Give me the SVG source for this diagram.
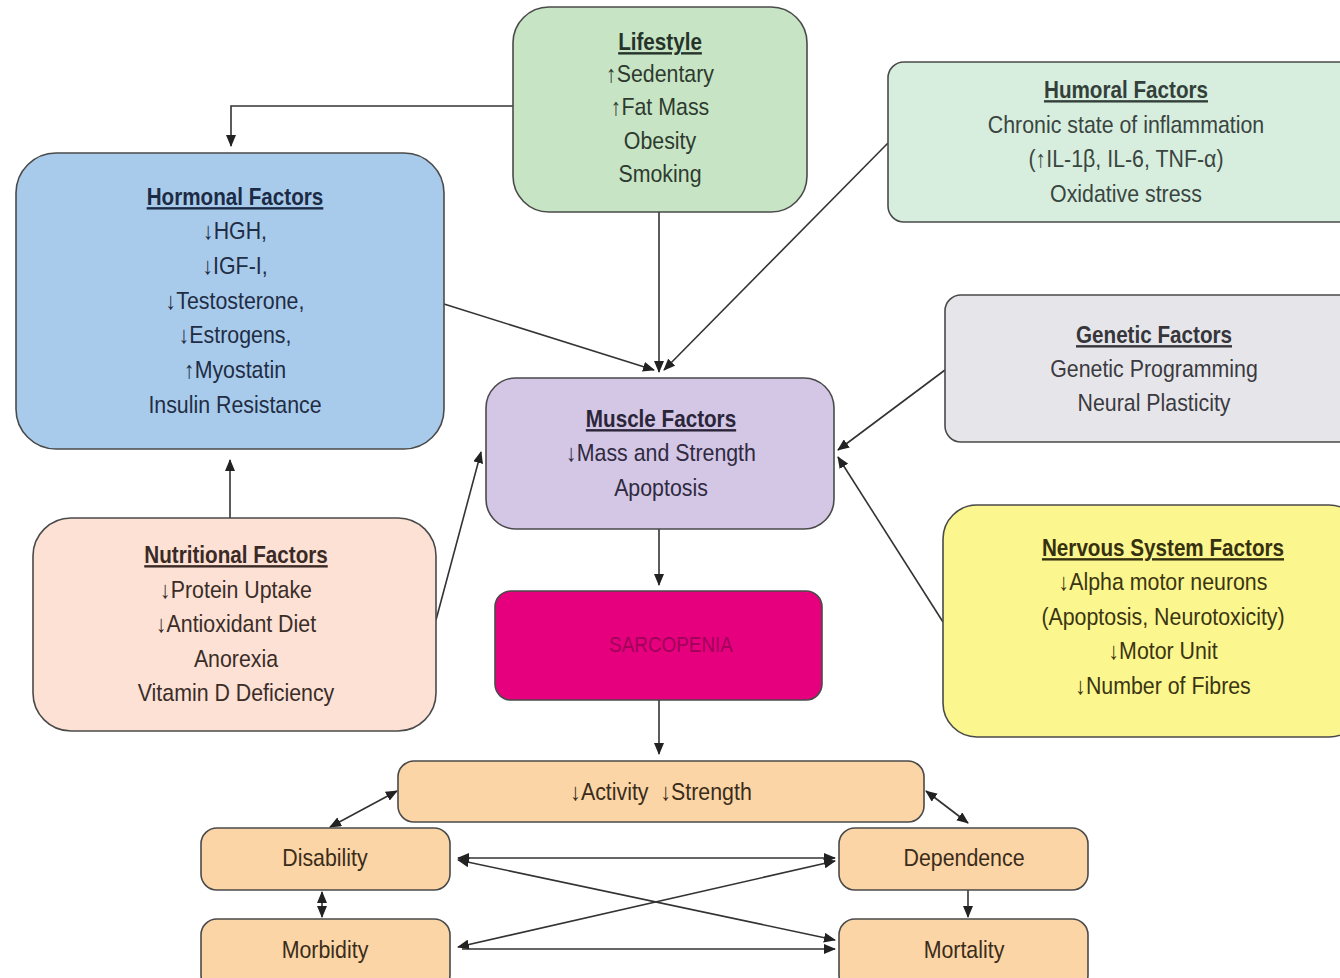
<svg xmlns="http://www.w3.org/2000/svg" width="1340" height="978" viewBox="0 0 1340 978">
<defs>
<marker id="ah" viewBox="0 0 12 10" refX="11" refY="5" markerWidth="12" markerHeight="10" markerUnits="userSpaceOnUse" orient="auto-start-reverse">
<path d="M0,0 L12,5 L0,10 Z" fill="#222"/>
</marker>
<style>
.box{stroke:#4a4a4a;stroke-width:1.6}
text{font-family:"Liberation Sans",Arial,sans-serif;font-size:24px;text-anchor:middle}
.t{font-weight:bold;text-decoration:underline;transform:scale(0.967,1)}
.c{fill:none;stroke:#333;stroke-width:1.6}
</style>
</defs>
<rect width="1340" height="978" fill="#ffffff"/>

<g id="connectors">
<polyline class="c" points="513,106 231,106 231,146" marker-end="url(#ah)"/>
<line class="c" x1="659" y1="212" x2="659" y2="372" marker-end="url(#ah)"/>
<line class="c" x1="444" y1="304" x2="654" y2="370" marker-end="url(#ah)"/>
<line class="c" x1="888" y1="143" x2="664" y2="370" marker-end="url(#ah)"/>
<line class="c" x1="945" y1="370" x2="838" y2="450" marker-end="url(#ah)"/>
<line class="c" x1="943" y1="622" x2="838" y2="457" marker-end="url(#ah)"/>
<line class="c" x1="230" y1="518" x2="230" y2="460" marker-end="url(#ah)"/>
<line class="c" x1="436" y1="620" x2="481" y2="452" marker-end="url(#ah)"/>
<line class="c" x1="659" y1="529" x2="659" y2="585" marker-end="url(#ah)"/>
<line class="c" x1="659" y1="700" x2="659" y2="754" marker-end="url(#ah)"/>
<line class="c" x1="330" y1="827" x2="397" y2="791" marker-start="url(#ah)" marker-end="url(#ah)"/>
<line class="c" x1="926" y1="791" x2="968" y2="823" marker-start="url(#ah)" marker-end="url(#ah)"/>
<line class="c" x1="458" y1="858" x2="835" y2="858" marker-start="url(#ah)" marker-end="url(#ah)"/>
<line class="c" x1="458" y1="860" x2="835" y2="940" marker-start="url(#ah)" marker-end="url(#ah)"/>
<line class="c" x1="458" y1="947" x2="835" y2="861" marker-start="url(#ah)" marker-end="url(#ah)"/>
<line class="c" x1="462" y1="949" x2="835" y2="949" marker-end="url(#ah)"/>
<line class="c" x1="322" y1="892" x2="322" y2="917" marker-start="url(#ah)" marker-end="url(#ah)"/>
<line class="c" x1="968" y1="890" x2="968" y2="917" marker-end="url(#ah)"/>
</g>

<g id="lifestyle">
<rect class="box" x="513" y="7" width="294" height="205" rx="36" fill="#c7e5c4"/>
<g transform="translate(660 0) scale(0.89 1)" fill="#2e3a30">
<text x="0" y="50" class="t" fill="#26332a">Lifestyle</text>
<text x="0" y="82">↑Sedentary</text>
<text x="0" y="115">↑Fat Mass</text>
<text x="0" y="149">Obesity</text>
<text x="0" y="182">Smoking</text>
</g>
</g>

<g id="humoral">
<rect class="box" x="888" y="62" width="480" height="160" rx="16" fill="#d7eedf"/>
<g transform="translate(1126 0) scale(0.89 1)" fill="#3a4540">
<text x="0" y="98" class="t" fill="#33403a">Humoral Factors</text>
<text x="0" y="133">Chronic state of inflammation</text>
<text x="0" y="167">(↑IL-1β, IL-6, TNF-α)</text>
<text x="0" y="202">Oxidative stress</text>
</g>
</g>

<g id="hormonal">
<rect class="box" x="16" y="153" width="428" height="296" rx="40" fill="#a9cbeb"/>
<g transform="translate(235 0) scale(0.89 1)" fill="#1f2d45">
<text x="0" y="205" class="t" fill="#1c2b45">Hormonal Factors</text>
<text x="0" y="239">↓HGH,</text>
<text x="0" y="274">↓IGF-I,</text>
<text x="0" y="309">↓Testosterone,</text>
<text x="0" y="343">↓Estrogens,</text>
<text x="0" y="378">↑Myostatin</text>
<text x="0" y="413">Insulin Resistance</text>
</g>
</g>

<g id="genetic">
<rect class="box" x="945" y="295" width="420" height="147" rx="16" fill="#e6e6ea"/>
<g transform="translate(1154 0) scale(0.89 1)" fill="#3a3a40">
<text x="0" y="343" class="t" fill="#35353a">Genetic Factors</text>
<text x="0" y="377">Genetic Programming</text>
<text x="0" y="411">Neural Plasticity</text>
</g>
</g>

<g id="muscle">
<rect class="box" x="486" y="378" width="348" height="151" rx="30" fill="#d4c6e5"/>
<g transform="translate(661 0) scale(0.89 1)" fill="#2f2a40">
<text x="0" y="427" class="t" fill="#2a2538">Muscle Factors</text>
<text x="0" y="461">↓Mass and Strength</text>
<text x="0" y="496">Apoptosis</text>
</g>
</g>

<g id="nutritional">
<rect class="box" x="33" y="518" width="403" height="213" rx="38" fill="#fde1d5"/>
<g transform="translate(236 0) scale(0.89 1)" fill="#3a2d28">
<text x="0" y="563" class="t" fill="#3a2a25">Nutritional Factors</text>
<text x="0" y="598">↓Protein Uptake</text>
<text x="0" y="632">↓Antioxidant Diet</text>
<text x="0" y="667">Anorexia</text>
<text x="0" y="701">Vitamin D Deficiency</text>
</g>
</g>

<g id="nervous">
<rect class="box" x="943" y="505" width="420" height="232" rx="34" fill="#fcf68e"/>
<g transform="translate(1163 0) scale(0.89 1)" fill="#3a3512">
<text x="0" y="556" class="t" fill="#35300e">Nervous System Factors</text>
<text x="0" y="590">↓Alpha motor neurons</text>
<text x="0" y="625">(Apoptosis, Neurotoxicity)</text>
<text x="0" y="659">↓Motor Unit</text>
<text x="0" y="694">↓Number of Fibres</text>
</g>
</g>

<g id="sarcopenia">
<rect class="box" x="495" y="591" width="327" height="109" rx="16" fill="#e6007e"/>
<g transform="translate(671 0) scale(0.86 1)">
<text x="0" y="652" fill="#a0005a" style="font-size:22px">SARCOPENIA</text>
</g>
</g>

<g id="activity">
<rect class="box" x="398" y="761" width="526" height="61" rx="16" fill="#fcd5a6"/>
<g transform="translate(661 0) scale(0.89 1)">
<text x="0" y="800" fill="#3a2c1a" xml:space="preserve">↓Activity  ↓Strength</text>
</g>
</g>

<g id="disability">
<rect class="box" x="201" y="828" width="249" height="62" rx="16" fill="#fcd5a6"/>
<g transform="translate(325 0) scale(0.89 1)">
<text x="0" y="866" fill="#3a2c1a">Disability</text>
</g>
</g>

<g id="dependence">
<rect class="box" x="839" y="828" width="249" height="62" rx="16" fill="#fcd5a6"/>
<g transform="translate(964 0) scale(0.89 1)">
<text x="0" y="866" fill="#3a2c1a">Dependence</text>
</g>
</g>

<g id="morbidity">
<rect class="box" x="201" y="919" width="249" height="72" rx="16" fill="#fcd5a6"/>
<g transform="translate(325 0) scale(0.89 1)">
<text x="0" y="958" fill="#3a2c1a">Morbidity</text>
</g>
</g>

<g id="mortality">
<rect class="box" x="839" y="919" width="249" height="72" rx="16" fill="#fcd5a6"/>
<g transform="translate(964 0) scale(0.89 1)">
<text x="0" y="958" fill="#3a2c1a">Mortality</text>
</g>
</g>
</svg>
